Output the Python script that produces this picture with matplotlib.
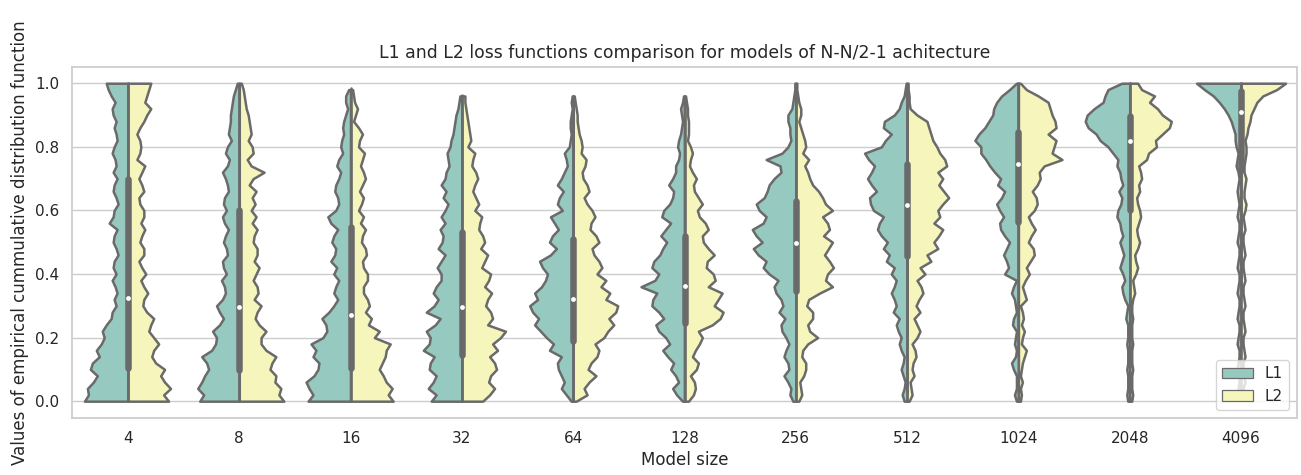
import matplotlib
matplotlib.use("Agg")
import matplotlib.pyplot as plt
import numpy as np
import seaborn as sns
from matplotlib.patches import Patch


sizes = [4, 8, 16, 32, 64, 128, 256, 512, 1024, 2048, 4096]

# values of the ECDF at which the half-violin widths were read
levels = [0.00, 0.02, 0.04, 0.06, 0.08, 0.10, 0.12, 0.14, 0.16, 0.18,
          0.20, 0.22, 0.24, 0.26, 0.28, 0.30, 0.32, 0.34, 0.36, 0.38,
          0.40, 0.42, 0.44, 0.46, 0.48, 0.50, 0.52, 0.54, 0.56, 0.58,
          0.60, 0.62, 0.64, 0.66, 0.68, 0.70, 0.72, 0.74, 0.76, 0.78,
          0.80, 0.82, 0.84, 0.86, 0.88, 0.90, 0.92, 0.94, 0.96, 0.98,
          1.00]

# density (relative width) of each half, L1 = left, L2 = right
l1_4 = [44, 40, 41, 35, 31, 38, 36, 29, 32, 27, 24, 26, 22, 17, 16, 12, 14, 11, 13, 16,
        12, 15, 14, 10, 12, 15, 14, 11, 19, 15, 14, 10, 12, 15, 14, 11, 15, 12, 13, 16,
        14, 11, 12, 14, 12, 15, 16, 13, 17, 20, 22]
l2_4 = [41, 36, 43, 37, 33, 37, 28, 24, 26, 31, 26, 21, 23, 26, 19, 15, 16, 20, 16, 13,
        18, 14, 11, 16, 16, 12, 14, 17, 13, 16, 16, 12, 11, 16, 14, 11, 14, 17, 9, 12,
        13, 12, 9, 12, 16, 19, 23, 17, 19, 21, 23]
l1_8 = [40, 36, 42, 38, 35, 31, 33, 38, 28, 24, 23, 27, 20, 16, 20, 23, 17, 14, 15, 18,
        13, 16, 17, 12, 13, 16, 14, 11, 15, 17, 13, 16, 15, 11, 12, 14, 17, 12, 10, 14,
        12, 8, 11, 10, 9, 9, 8, 7, 6, 4, 2]
l2_8 = [45, 40, 42, 36, 37, 31, 33, 37, 27, 22, 22, 27, 20, 16, 18, 22, 15, 19, 18, 14,
        17, 20, 15, 18, 18, 14, 15, 18, 13, 17, 12, 16, 13, 17, 10, 14, 25, 12, 8, 14,
        13, 9, 12, 11, 10, 9, 7, 6, 5, 4, 2]
l1_16 = [43, 38, 42, 45, 37, 33, 32, 38, 35, 40, 28, 24, 25, 29, 22, 17, 13, 17, 15, 12,
         17, 14, 20, 16, 15, 19, 17, 13, 20, 23, 15, 12, 13, 16, 15, 12, 10, 14, 12, 8,
         10, 9, 7, 8, 7, 5, 3, 5, 5, 2, 0]
l2_16 = [43, 38, 42, 36, 33, 29, 32, 35, 36, 40, 24, 29, 18, 21, 15, 19, 17, 13, 13, 17,
         17, 13, 12, 16, 15, 11, 12, 15, 10, 13, 8, 11, 13, 9, 12, 15, 13, 10, 12, 14,
         8, 9, 12, 8, 3, 5, 7, 4, 3, 2, 0]
l1_32 = [31, 26, 34, 29, 26, 33, 32, 28, 39, 33, 32, 36, 27, 22, 36, 28, 24, 29, 26, 21,
         21, 25, 21, 17, 24, 20, 19, 22, 17, 21, 17, 14, 19, 16, 21, 17, 16, 13, 14, 15,
         12, 11, 9, 8, 7, 6, 4, 3, 2, 0, 0]
l2_32 = [21, 28, 33, 27, 29, 35, 33, 28, 36, 31, 39, 44, 26, 31, 29, 24, 26, 30, 23, 27,
         29, 20, 23, 26, 19, 23, 21, 17, 18, 20, 13, 17, 14, 11, 13, 16, 14, 10, 11, 13,
         6, 9, 8, 7, 6, 5, 4, 3, 3, 0, 0]
l1_64 = [2, 7, 12, 9, 12, 15, 16, 12, 24, 20, 27, 33, 39, 35, 41, 44, 36, 39, 32, 28,
         26, 31, 34, 23, 17, 24, 21, 15, 19, 23, 11, 16, 14, 10, 16, 12, 9, 6, 7, 9,
         4, 3, 2, 3, 3, 2, 1, 2, 1, 0, 0]
l2_64 = [3, 14, 11, 16, 23, 15, 18, 24, 26, 22, 31, 35, 41, 36, 43, 45, 33, 37, 28, 33,
         24, 29, 26, 21, 19, 26, 23, 17, 18, 22, 19, 14, 11, 16, 14, 10, 9, 12, 13, 8,
         9, 8, 6, 5, 4, 4, 3, 2, 1, 0, 0]
l1_128 = [2, 8, 12, 6, 9, 14, 11, 17, 22, 15, 19, 26, 29, 21, 26, 33, 32, 28, 44, 30,
          26, 33, 31, 25, 22, 18, 24, 19, 14, 23, 21, 15, 12, 11, 16, 12, 9, 9, 6, 5,
          7, 6, 4, 3, 2, 3, 4, 2, 1, 0, 0]
l2_128 = [4, 9, 11, 10, 6, 12, 14, 8, 11, 15, 18, 14, 28, 36, 39, 30, 34, 38, 24, 31,
          29, 22, 23, 30, 24, 19, 18, 24, 21, 15, 13, 18, 14, 10, 9, 12, 8, 5, 6, 8,
          6, 3, 4, 4, 4, 3, 3, 2, 1, 0, 0]
l1_256 = [3, 6, 5, 8, 12, 7, 8, 12, 10, 7, 10, 14, 15, 11, 17, 13, 15, 20, 22, 18,
          27, 33, 30, 38, 43, 34, 40, 44, 33, 30, 37, 40, 32, 29, 27, 22, 15, 16, 30, 14,
          8, 5, 6, 6, 8, 8, 4, 3, 2, 1, 1]
l2_256 = [3, 6, 5, 4, 8, 10, 10, 6, 7, 12, 22, 14, 12, 17, 17, 11, 13, 24, 37, 30,
          32, 38, 34, 29, 33, 37, 28, 34, 32, 27, 37, 30, 27, 23, 17, 14, 12, 9, 13, 7,
          10, 9, 7, 5, 3, 5, 5, 3, 2, 1, 1]
l1_512 = [3, 5, 3, 2, 4, 6, 4, 3, 6, 8, 6, 9, 11, 8, 14, 11, 13, 16, 13, 11,
          16, 13, 21, 18, 24, 20, 26, 30, 28, 24, 34, 37, 38, 31, 36, 40, 36, 33, 39, 43,
          26, 22, 16, 24, 23, 13, 8, 6, 3, 2, 1]
l2_512 = [2, 5, 4, 3, 7, 5, 6, 9, 8, 5, 10, 13, 10, 7, 13, 9, 12, 16, 14, 10,
          18, 13, 24, 20, 31, 27, 32, 36, 27, 33, 31, 36, 42, 37, 32, 36, 31, 40, 38, 33,
          30, 26, 24, 22, 20, 10, 3, 2, 2, 1, 1]
l1_1024 = [2, 4, 2, 2, 2, 5, 7, 3, 2, 4, 3, 2, 6, 5, 2, 3, 4, 7, 5, 2,
           14, 10, 12, 15, 12, 9, 14, 18, 19, 15, 19, 22, 17, 14, 21, 18, 24, 29, 33, 38,
           38, 44, 40, 34, 30, 26, 25, 22, 17, 9, 2]
l2_1024 = [2, 3, 2, 4, 2, 3, 4, 6, 8, 3, 4, 6, 3, 5, 4, 2, 8, 6, 4, 7,
           11, 8, 12, 16, 15, 10, 13, 17, 13, 10, 16, 19, 18, 14, 19, 22, 21, 26, 44, 34,
           36, 38, 30, 38, 37, 34, 32, 30, 20, 8, 2]
l1_2048 = [2, 3, 2, 2, 2, 3, 2, 2, 2, 3, 2, 2, 2, 4, 3, 2, 5, 7, 8, 5,
           7, 10, 8, 6, 8, 10, 7, 9, 10, 13, 12, 9, 8, 11, 7, 9, 10, 13, 12, 17,
           22, 30, 34, 42, 45, 43, 36, 27, 25, 22, 8]
l2_2048 = [2, 3, 2, 2, 2, 3, 2, 2, 2, 3, 2, 2, 2, 3, 2, 2, 3, 5, 4, 3,
           6, 8, 6, 5, 8, 10, 8, 7, 9, 11, 10, 8, 7, 10, 9, 12, 11, 9, 17, 19,
           27, 26, 33, 40, 42, 33, 28, 20, 25, 12, 8]
l1_4096 = [0, 2, 3, 2, 2, 4, 3, 2, 2, 4, 3, 2, 2, 4, 3, 2, 2, 4, 3, 2,
           2, 4, 3, 2, 2, 4, 3, 2, 2, 4, 3, 2, 3, 4, 3, 2, 3, 5, 4, 3,
           5, 6, 6, 8, 10, 13, 17, 22, 28, 37, 45]
l2_4096 = [0, 2, 2, 4, 3, 2, 2, 4, 3, 2, 2, 4, 3, 2, 2, 4, 3, 2, 2, 4,
           3, 2, 2, 4, 3, 2, 2, 4, 3, 2, 4, 5, 3, 3, 4, 5, 3, 3, 4, 5,
           5, 4, 6, 7, 9, 10, 13, 16, 22, 36, 45]

# inner box (both losses pooled)
box_q1 = [0.105, 0.098, 0.103, 0.145, 0.189, 0.247, 0.346, 0.457, 0.565, 0.600, 0.728]
box_median = [0.325, 0.297, 0.271, 0.295, 0.321, 0.361, 0.497, 0.618, 0.745, 0.818, 0.910]
box_q3 = [0.700, 0.600, 0.549, 0.533, 0.509, 0.518, 0.631, 0.745, 0.847, 0.897, 0.974]
whisker_lo = [0.0, 0.0, 0.0, 0.0, 0.0, 0.0, 0.0, 0.03, 0.145, 0.157, 0.364]
whisker_hi = [1.0, 0.995, 0.985, 0.964, 0.958, 0.958, 0.99, 0.985, 1.0, 1.0, 1.0]

l1_all = [l1_4, l1_8, l1_16, l1_32, l1_64, l1_128, l1_256, l1_512, l1_1024, l1_2048, l1_4096]
l2_all = [l2_4, l2_8, l2_16, l2_32, l2_64, l2_128, l2_256, l2_512, l2_1024, l2_2048, l2_4096]


sns.set_theme(style="whitegrid")
pal = sns.color_palette("Set3", 2, desat=0.75)
gray = "#6a6a6a"
lw = 1.8

fig = plt.figure(figsize=(13.01, 4.75), dpi=100)
ax = fig.add_axes([0.0556, 0.1206, 0.9411, 0.739])

y = np.array(levels)
dmax = max(max(max(a) for a in l1_all), max(max(a) for a in l2_all))
scale = 0.4 / dmax


def half(ax, pos, dens, side, color):
    d = np.array(dens, dtype=float)
    nz = np.nonzero(d)[0]
    sl = slice(nz[0], nz[-1] + 1)
    w = d[sl] * scale
    if side == "left":
        ax.fill_betweenx(y[sl], pos - w, pos, facecolor=color,
                         edgecolor=gray, linewidth=lw, zorder=2)
    else:
        ax.fill_betweenx(y[sl], pos, pos + w, facecolor=color,
                         edgecolor=gray, linewidth=lw, zorder=2)


for i in range(len(sizes)):
    half(ax, i, l1_all[i], "left", pal[0])
    half(ax, i, l2_all[i], "right", pal[1])
    ax.plot([i, i], [whisker_lo[i], whisker_hi[i]], color=gray,
            linewidth=lw, zorder=3, solid_capstyle="round")
    ax.plot([i, i], [box_q1[i], box_q3[i]], color=gray,
            linewidth=lw * 2.6, zorder=3, solid_capstyle="round")
    ax.scatter([i], [box_median[i]], s=12, color="white", linewidth=0, zorder=4)

ax.set_xlim(-0.5, len(sizes) - 0.5)
ax.set_ylim(-0.052, 1.052)
ax.set_xticks(range(len(sizes)))
ax.set_xticklabels([str(s) for s in sizes])
ax.grid(axis="x", visible=False)

ax.set_xlabel("Model size")
ax.set_ylabel("Values of empirical cummulative distribution function", fontsize=12)
ax.set_title("L1 and L2 loss functions comparison for models of N-N/2-1 achitecture",
             fontsize=12.4)

handles = [Patch(facecolor=pal[0], edgecolor=gray, linewidth=lw / 2, label="L1"),
           Patch(facecolor=pal[1], edgecolor=gray, linewidth=lw / 2, label="L2")]
ax.legend(handles=handles, loc="lower right")

fig.savefig("out.png", dpi=100)
